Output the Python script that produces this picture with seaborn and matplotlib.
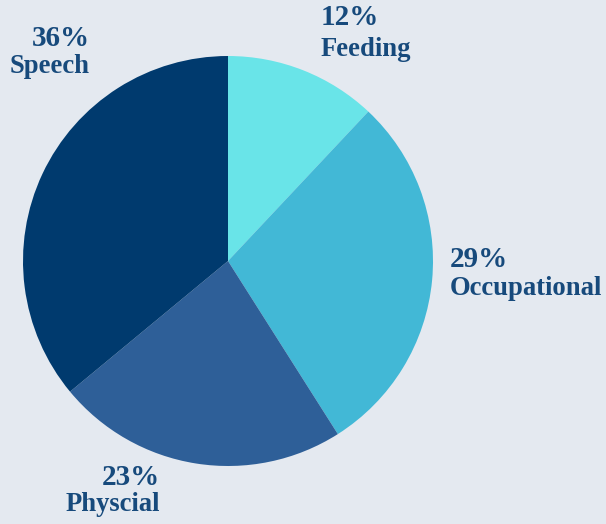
import matplotlib
matplotlib.use("Agg")
import matplotlib.pyplot as plt
import seaborn as sns

# therapy type shares
categories = ["Feeding", "Occupational", "Physcial", "Speech"]
shares = [12, 29, 23, 36]
colors = ["#69e4e8", "#42b8d6", "#2e5f98", "#003a6e"]

# label anchors (data units, pie radius = 1) and alignment
label_x = [0.45, 1.083, -0.332, -0.675]
pct_y = [1.19, 0.005, -1.054, 1.083]
name_y = [1.034, -0.132, -1.19, 0.951]
label_ha = ["left", "left", "right", "right"]

bg = "#e4e9f0"
text_col = "#174a7c"

sns.set_theme(style="white")
plt.rcParams["font.family"] = ["Liberation Serif", "DejaVu Serif"]

fig = plt.figure(figsize=(6.06, 5.24), dpi=100, facecolor=bg)
ax = fig.add_axes([0, 0, 1, 1])
ax.set_facecolor(bg)

ax.pie(shares, colors=colors, startangle=90, counterclock=False,
       radius=1, wedgeprops=dict(linewidth=0))

for i, cat in enumerate(categories):
    ax.text(label_x[i], pct_y[i], f"{shares[i]}%", ha=label_ha[i], va="center",
            fontsize=21, fontweight="bold", color=text_col)
    ax.text(label_x[i], name_y[i], cat, ha=label_ha[i], va="center",
            fontsize=19.2, fontweight="bold", color=text_col)

ax.set_xlim(-228 / 205, (606 - 228) / 205)
ax.set_ylim(-(524 - 261) / 205, 261 / 205)
ax.set_aspect("equal")
ax.axis("off")

fig.savefig("out.png", dpi=100, facecolor=bg)
